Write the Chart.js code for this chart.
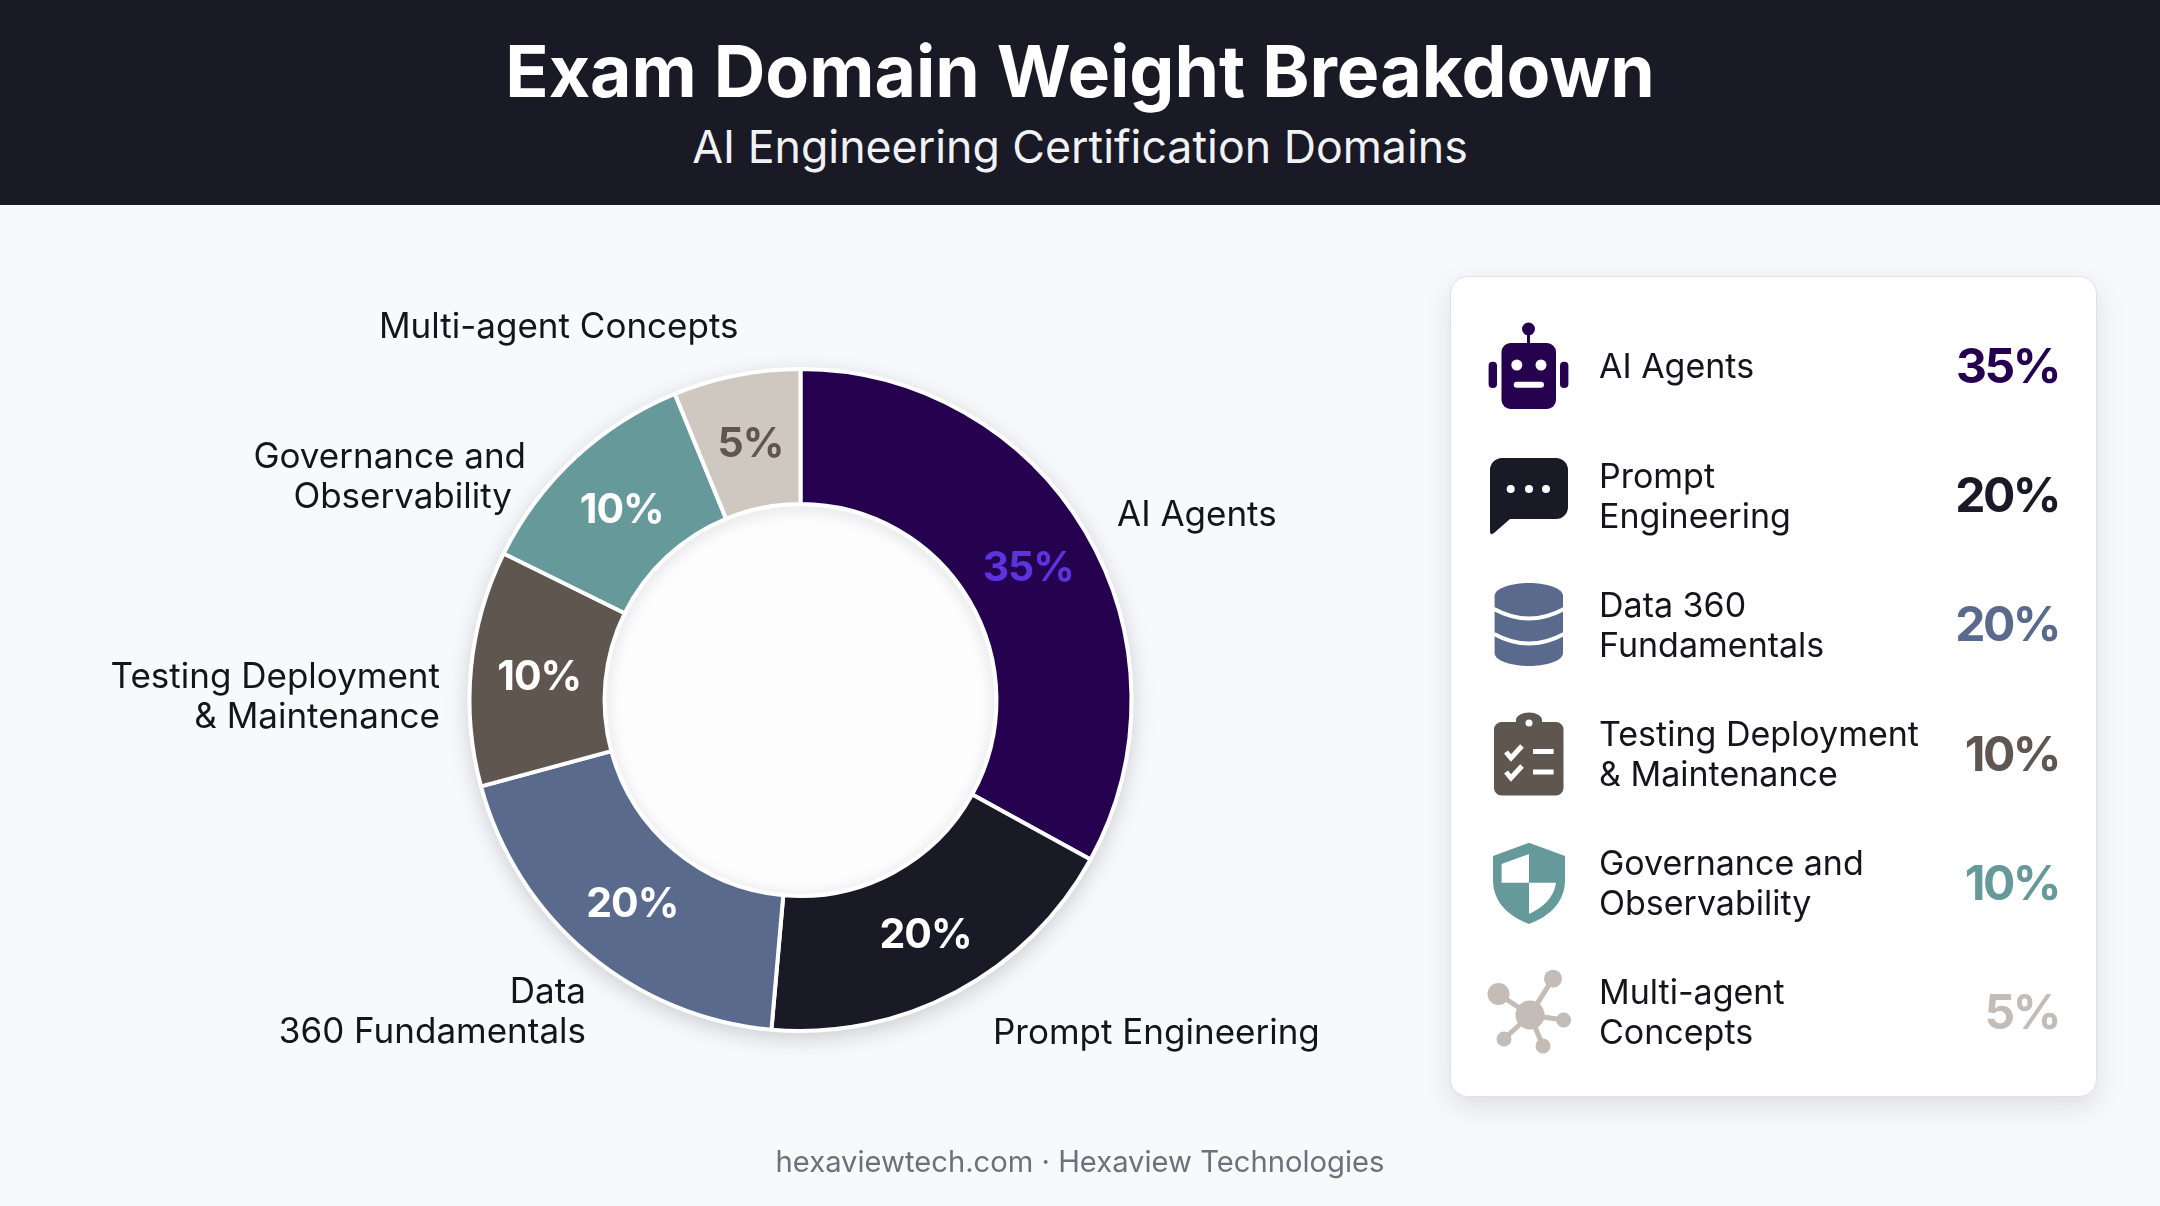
<!DOCTYPE html>
<html lang="en">
<head>
<meta charset="utf-8">
<title>Exam Domain Weight Breakdown</title>
<script src="https://cdn.jsdelivr.net/npm/chart.js@4/dist/chart.umd.min.js"></script>
<style>
  * { box-sizing: border-box; margin: 0; padding: 0; }
  html, body { width: 2160px; height: 1206px; overflow: hidden; }
  body { position: relative; background: #f8f9fb; font-family: Inter, sans-serif; color: #14141c; }

  header { position: absolute; left: 0; top: 0; width: 2160px; height: 205px; background: #1a1a27; color: #fff; text-align: center; }
  header h1 { position: absolute; left: 0; right: 0; top: 27px; font-size: 71.5px; line-height: 88px; font-weight: 700; }
  header p { position: absolute; left: 0; right: 0; top: 120px; font-size: 44.7px; line-height: 54px; font-weight: 400; color: #f1f2f5; }

  #chartWrap { position: absolute; left: 0; top: 206px; width: 1440px; height: 1000px; }

  .callout { position: absolute; font-size: 35px; line-height: 40px; white-space: nowrap; }
  .callout.right { text-align: right; }
  #callout0 { left: 1117px; top: 493px; }
  #callout1 { left: 993px; top: 1011px; }
  #callout2 { right: 1574px; top: 970px; }
  #callout3 { right: 1720px; top: 655px; }
  #callout4 { right: 1634px; top: 435px; }
  #callout4 span:last-child { padding-right: 14px; }
  #callout5 { left: 379px; top: 305px; }
  .callout span { display: block; }

  #card { position: absolute; left: 1450px; top: 276px; width: 647px; height: 821px; padding-top: 24.4px;
    background: #fff; border: 1px solid #dfe0e5; border-radius: 18px; box-shadow: 0 10px 28px rgba(40, 45, 70, 0.13); }
  .row { position: relative; height: 129.2px; }
  .row svg { position: absolute; left: 29px; top: 16.6px; width: 96px; height: 96px; }
  .row .name { position: absolute; left: 148px; top: calc(50% + 0.5px); transform: translateY(-50%); font-size: 34px; line-height: 40px; white-space: nowrap; }
  .row .pct { position: absolute; right: 37px; top: 50%; transform: translateY(-50%); font-size: 48px; letter-spacing: -2.5px; font-weight: 700; line-height: 60px; }

  footer { position: absolute; left: 0; right: 0; top: 1143px; text-align: center; font-size: 29.2px; line-height: 38px; color: #6c707b; }
</style>
</head>
<body>
<header>
  <h1>Exam Domain Weight Breakdown</h1>
  <p>AI Engineering Certification Domains</p>
</header>

<div id="chartWrap"><canvas id="donut"></canvas></div>
<div id="callouts"></div>
<div id="card"></div>
<footer>hexaviewtech.com · Hexaview Technologies</footer>

<script>
const categories = ['AI Agents', 'Prompt Engineering', 'Data 360 Fundamentals', 'Testing Deployment & Maintenance', 'Governance and Observability', 'Multi-agent Concepts'];
// the percentages printed on the picture
const weights = [35, 20, 20, 10, 10, 5];
// sweep of each slice as measured on the picture, it does not follow the printed weights exactly
const sliceShares = [33, 18.4, 19.4, 11.5, 11.5, 6.2];
const sliceColors = ['#25004f', '#1a1a26', '#5a6a8c', '#5f5650', '#66999a', '#cfc8c1'];
const labelColors = ['#5b34e0', '#ffffff', '#ffffff', '#ffffff', '#ffffff', '#5f5650'];
const pctColors = ['#25004f', '#1a1a26', '#5a6a8c', '#5f5650', '#66999a', '#c4bcb6'];
const calloutLines = [['AI Agents'], ['Prompt Engineering'], ['Data', '360 Fundamentals'], ['Testing Deployment', '& Maintenance'], ['Governance and', 'Observability'], ['Multi-agent Concepts']];
const legendLines = [['AI Agents'], ['Prompt', 'Engineering'], ['Data 360', 'Fundamentals'], ['Testing Deployment', '& Maintenance'], ['Governance and', 'Observability'], ['Multi-agent', 'Concepts']];

// legend icons, 96 x 96 box
const icons = [
  c => `<circle cx="48.5" cy="11" r="6.5" fill="${c}"/><rect x="47" y="14" width="3" height="12" fill="${c}"/>
    <rect x="21.5" y="25" width="54.5" height="66" rx="9" fill="${c}"/><rect x="8.6" y="43.7" width="8.4" height="26.3" rx="4" fill="${c}"/>
    <rect x="80" y="43.7" width="8.4" height="26.3" rx="4" fill="${c}"/><circle cx="36.8" cy="47" r="5.5" fill="#fff"/><circle cx="61" cy="47" r="5.5" fill="#fff"/>
    <rect x="33.7" y="63.7" width="30.3" height="6" rx="3" fill="#fff"/>`,
  c => `<path d="M22 11H76a12 12 0 0 1 12 12V60a12 12 0 0 1-12 12H30L14 86Q10 89 10 84V23a12 12 0 0 1 12-12Z" fill="${c}"/>
    <circle cx="30.7" cy="42" r="4" fill="#fff"/><circle cx="49" cy="42" r="4" fill="#fff"/><circle cx="66" cy="42" r="4" fill="#fff"/>`,
  c => `<path d="M14.6 20C14.6 12 32 7 49 7S83 12 83 20V77C83 85 66 90 49 90S14.6 85 14.6 77Z" fill="${c}"/>
    <path d="M14 33Q49 52 84 33M14 58Q49 77 84 58" fill="none" stroke="#fff" stroke-width="4"/>`,
  c => `<path d="M36 16V14a13 7.5 0 0 1 26 0V16H76a7.5 7.5 0 0 1 7.5 7.5V82a7.5 7.5 0 0 1-7.5 7.5H21.5a7.5 7.5 0 0 1-7.5-7.5V23.5A7.5 7.5 0 0 1 21.5 16Z" fill="${c}"/>
    <circle cx="49" cy="17" r="3.5" fill="#fff"/>
    <path d="M26 46L31 52L42 40M26 66L31 72L42 60" fill="none" stroke="#fff" stroke-width="5"/>
    <rect x="53" y="43" width="20.6" height="5" fill="#fff"/><rect x="53" y="63.5" width="20.6" height="5" fill="#fff"/>`,
  c => `<path d="M49 7.7L85 21V45C85 68 68 82 49 89C30 82 13 68 13 45V21Z" fill="${c}"/>
    <path d="M49 19L21.6 29V47.7H49ZM49 47.7H76C74 62 64 72 49 79Z" fill="#fff"/>`,
  c => `<path d="M50 51L73 14.7M50 51L18.5 30M50 51L83.6 56M50 51L24 75M50 51L63 82" stroke="${c}" stroke-width="5" fill="none"/>
    <circle cx="50" cy="51" r="14.5" fill="${c}"/><circle cx="73" cy="14.7" r="9" fill="${c}"/><circle cx="18.5" cy="30" r="11" fill="${c}"/>
    <circle cx="83.6" cy="56" r="7.5" fill="${c}"/><circle cx="24" cy="75" r="7.5" fill="${c}"/><circle cx="63" cy="82" r="7.5" fill="${c}"/>`
];

function linesHtml(lines) {
  return lines.map(l => `<span>${l.replace('&', '&amp;')}</span>`).join('');
}

document.getElementById('callouts').innerHTML = calloutLines.map((lines, i) => {
  const side = (i >= 2 && i <= 4) ? ' right' : '';
  return `<div class="callout${side}" id="callout${i}">${linesHtml(lines)}</div>`;
}).join('');

document.getElementById('card').innerHTML = categories.map((name, i) => `
  <div class="row">
    <svg viewBox="0 0 96 96">${icons[i](pctColors[i])}</svg>
    <div class="name">${legendLines[i].map(l => l.replace('&', '&amp;')).join('<br>')}</div>
    <div class="pct" style="color:${pctColors[i]}">${weights[i]}%</div>
  </div>`).join('');

// soft shadow under the ring and white hole with a faint inner shadow
const ringShadow = {
  id: 'ringShadow',
  beforeDatasetsDraw(chart) {
    const arc = chart.getDatasetMeta(0).data[0];
    const ctx = chart.ctx;
    ctx.save();
    ctx.shadowColor = 'rgba(40, 45, 70, 0.22)';
    ctx.shadowBlur = 22;
    ctx.shadowOffsetY = 6;
    ctx.fillStyle = '#ffffff';
    ctx.beginPath();
    ctx.arc(arc.x, arc.y, arc.outerRadius + 1, 0, Math.PI * 2);
    ctx.fill();
    ctx.restore();
  },
  afterDatasetsDraw(chart) {
    const arc = chart.getDatasetMeta(0).data[0];
    const ctx = chart.ctx;
    const hole = arc.innerRadius - 2;
    ctx.save();
    ctx.beginPath();
    ctx.arc(arc.x, arc.y, hole, 0, Math.PI * 2);
    ctx.clip();
    ctx.fillStyle = '#fdfdfe';
    ctx.fill();
    ctx.shadowColor = 'rgba(40, 45, 70, 0.20)';
    ctx.shadowBlur = 14;
    ctx.shadowOffsetY = 3;
    ctx.lineWidth = 6;
    ctx.strokeStyle = '#ffffff';
    ctx.beginPath();
    ctx.arc(arc.x, arc.y, hole + 3, 0, Math.PI * 2);
    ctx.stroke();
    ctx.restore();
  }
};

// printed percentage in the middle of each slice
const sliceLabels = {
  id: 'sliceLabels',
  afterDraw(chart) {
    const ctx = chart.ctx;
    ctx.save();
    ctx.font = '700 41px Inter';
    ctx.letterSpacing = '-1px';
    ctx.textAlign = 'center';
    ctx.textBaseline = 'middle';
    chart.getDatasetMeta(0).data.forEach((arc, i) => {
      const p = arc.getCenterPoint();
      ctx.fillStyle = labelColors[i];
      ctx.fillText(weights[i] + '%', p.x + 1, p.y + 3);
    });
    ctx.restore();
  }
};

new Chart(document.getElementById('donut'), {
  type: 'doughnut',
  data: {
    labels: categories,
    datasets: [{
      data: sliceShares,
      backgroundColor: sliceColors,
      borderColor: '#ffffff',
      borderWidth: 4
    }]
  },
  options: {
    responsive: true,
    maintainAspectRatio: false,
    animation: false,
    devicePixelRatio: 1,
    cutout: '59.2%',
    layout: { padding: { left: 161, right: 0, top: 161, bottom: 173 } },
    plugins: { legend: { display: false }, tooltip: { enabled: false } }
  },
  plugins: [ringShadow, sliceLabels]
});
</script>
</body>
</html>
